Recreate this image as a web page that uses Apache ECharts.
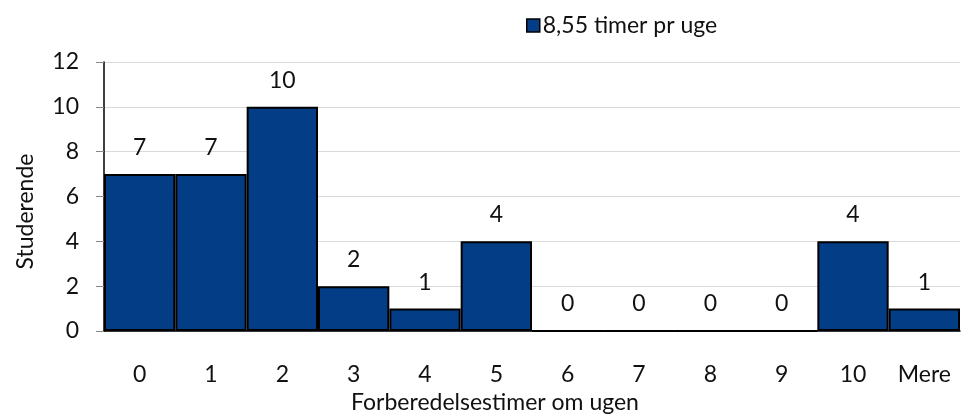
<!DOCTYPE html>
<html>
<head>
<meta charset="utf-8">
<script src="https://cdn.jsdelivr.net/npm/echarts@6/dist/echarts.min.js"></script>
<style>
  html, body { margin: 0; padding: 0; background: #fff; }
  #main { width: 961px; height: 416px; }
</style>
</head>
<body>
<div id="main"></div>
<script>
var categories = ["0", "1", "2", "3", "4", "5", "6", "7", "8", "9", "10", "Mere"];
var values = [7, 7, 10, 2, 1, 4, 0, 0, 0, 0, 4, 1];
var seriesName = "8,55 timer pr uge";
var yTicks = { min: 0, max: 12, interval: 2 };

var font = "Lato";
var myChart = echarts.init(document.getElementById("main"));

var option = {
  animation: false,
  textStyle: { fontFamily: font },
  legend: {
    left: 521,
    top: 9,
    icon: "rect",
    itemWidth: 13,
    itemHeight: 13,
    itemGap: 6,
    itemStyle: { borderColor: "#000", borderWidth: 1.5 },
    textStyle: { fontSize: 23, color: "#111", padding: [0, 0, 0, -2] },
    data: [seriesName]
  },
  grid: {
    left: 104,
    right: 1,
    top: 62,
    bottom: 85,
    outerBoundsMode: "none"
  },
  xAxis: {
    type: "category",
    data: categories,
    name: "Forberedelsestimer om ugen",
    nameLocation: "middle",
    nameGap: 55,
    nameTextStyle: { fontSize: 23, color: "#111", padding: [0, 74, 0, 0] },
    axisTick: { show: false },
    axisLine: { lineStyle: { color: "#000", width: 1.5 } },
    axisLabel: { fontSize: 23, color: "#111", margin: 32 }
  },
  yAxis: {
    type: "value",
    min: yTicks.min,
    max: yTicks.max,
    interval: yTicks.interval,
    name: "Studerende",
    nameLocation: "middle",
    nameGap: 67,
    nameTextStyle: { fontSize: 23, color: "#111", padding: [0, 0, 0, -30] },
    axisLine: { show: true, lineStyle: { color: "#000", width: 1.5 } },
    axisTick: { show: true, length: 8, lineStyle: { color: "#888" } },
    axisLabel: { fontSize: 23, color: "#111", margin: 25 },
    splitLine: { lineStyle: { color: "#d9d9d9" } }
  },
  series: [
    {
      name: seriesName,
      type: "bar",
      data: values,
      barCategoryGap: "0%",
      itemStyle: {
        color: "#023D85",
        borderColor: "#000",
        borderWidth: 2
      },
      label: {
        show: true,
        position: "top",
        distance: 15,
        fontSize: 23,
        color: "#111"
      }
    }
  ]
};

myChart.setOption(option);
</script>
</body>
</html>
